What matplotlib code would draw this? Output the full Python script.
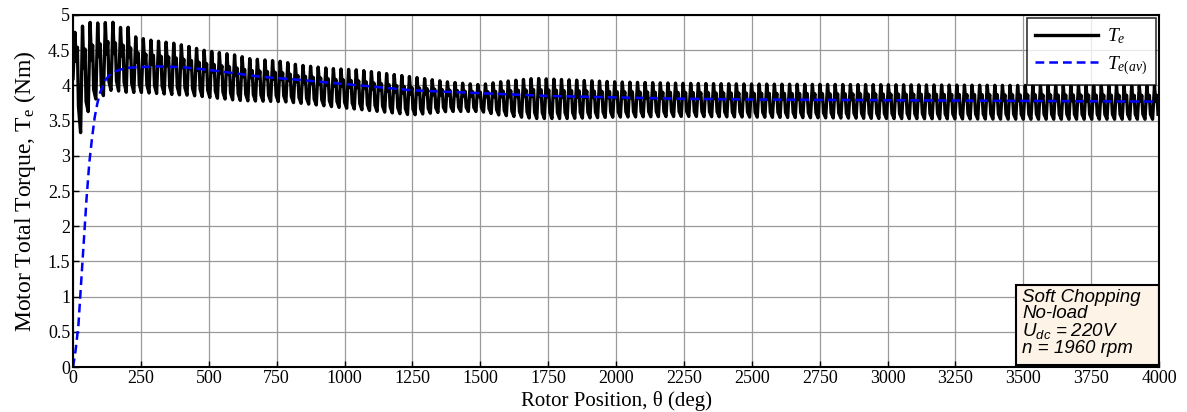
import numpy as np
import matplotlib
matplotlib.use("Agg")
import matplotlib.pyplot as plt
from matplotlib.patches import Rectangle

plt.rcParams["font.family"] = ["Liberation Serif", "DejaVu Serif"]
plt.rcParams["mathtext.fontset"] = "custom"
plt.rcParams["mathtext.rm"] = "Liberation Serif"
plt.rcParams["mathtext.it"] = "Liberation Serif:italic"
plt.rcParams["mathtext.sf"] = "Liberation Sans:italic"

# Envelope of the instantaneous torque ripple (deg -> Nm)
env_theta = [0, 15, 28, 45, 80, 110, 140, 170, 200, 230, 250, 290, 370, 430,
             480, 600, 650, 770, 830, 950, 1050, 1250, 1380, 1500, 1570, 1700,
             1820, 2000, 2250, 2500, 3000, 3500, 4000]
env_upper = [4.60, 4.93, 4.80, 4.90, 4.89, 4.88, 4.92, 4.82, 4.84, 4.69, 4.67,
             4.64, 4.60, 4.55, 4.50, 4.43, 4.38, 4.34, 4.29, 4.24, 4.22, 4.12,
             4.05, 4.01, 4.05, 4.10, 4.08, 4.05, 4.03, 4.02, 4.01, 4.00, 3.99]
env_lower = [4.10, 3.60, 3.33, 3.55, 3.80, 3.85, 3.93, 3.92, 3.90, 3.90, 3.90,
             3.89, 3.87, 3.86, 3.84, 3.79, 3.78, 3.77, 3.75, 3.70, 3.66, 3.58,
             3.63, 3.63, 3.58, 3.53, 3.53, 3.55, 3.56, 3.55, 3.53, 3.52, 3.52]
ripple_period = 28.0  # deg per torque cycle

# Average torque T_e(av)
avg_theta = [0, 10, 20, 30, 40, 50, 60, 70, 80, 90, 100, 120, 140, 170, 200,
             300, 400, 500, 600, 700, 800, 1000, 1250, 1500, 1750, 2000, 2250,
             2500, 3000, 3500, 4000]
avg_torque = [0.0, 0.25, 0.6, 1.2, 1.8, 2.4, 2.9, 3.25, 3.55, 3.75, 3.90, 4.08,
              4.17, 4.22, 4.25, 4.27, 4.26, 4.22, 4.17, 4.12, 4.09, 4.02, 3.93,
              3.89, 3.85, 3.83, 3.81, 3.80, 3.79, 3.78, 3.77]

x_ticks = list(range(0, 4001, 250))
y_ticks = [0, 0.5, 1, 1.5, 2, 2.5, 3, 3.5, 4, 4.5, 5]
y_ticklabels = ["0", "0.5", "1", "1.5", "2", "2.5", "3", "3.5", "4", "4.5", "5"]

# Build the rippling torque waveform cycle by cycle: a sharp rise to the
# peak, a shoulder, then back down to the trough.
phase = [0.0, 0.25, 0.42, 0.58, 0.72, 1.0]
level = [0.0, 1.0, 0.55, 0.72, 0.15, 0.0]
n_cycles = int(np.ceil(4000 / ripple_period))
te_theta, te_val = [], []
for k in range(n_cycles):
    for p, lv in zip(phase[:-1], level[:-1]):
        th = (k + p) * ripple_period
        if th > 4000:
            break
        lo = np.interp(th, env_theta, env_lower)
        hi = np.interp(th, env_theta, env_upper)
        te_theta.append(th)
        te_val.append(lo + lv * (hi - lo))

fig = plt.figure(figsize=(11.87, 4.12), dpi=100)
ax = fig.add_axes([0.0615, 0.109, 0.915, 0.8546])

ax.plot(te_theta, te_val, color="black", lw=2.4, label=r"$T_e$", zorder=3)
ax.plot(avg_theta, avg_torque, color="#0000ff", lw=1.8, ls=(0, (3.5, 2)),
        label=r"$T_{e(av)}$", zorder=4)

ax.set_xlim(0, 4000)
ax.set_ylim(0, 5)
ax.set_xticks(x_ticks)
ax.set_yticks(y_ticks)
ax.set_yticklabels(y_ticklabels)
ax.tick_params(direction="in", length=4, width=1, labelsize=13, pad=2)
ax.grid(True, color="#9a9a9a", lw=0.9)
for s in ax.spines.values():
    s.set_linewidth(1.5)
    s.set_zorder(12)

ax.set_xlabel(r"Rotor Position, θ (deg)", fontsize=15, labelpad=3)
ax.set_ylabel(r"Motor Total Torque, T$_\mathrm{e}$ (Nm)", fontsize=17, labelpad=7)

leg = ax.legend(loc="upper right", fontsize=14, frameon=True, fancybox=False,
                edgecolor="black", borderaxespad=0.15, handlelength=3.2,
                labelspacing=0.4, borderpad=0.45, handletextpad=0.5)
leg.get_frame().set_linewidth(1.2)
leg.set_zorder(10)

# Operating-condition note in the lower right corner
ax.add_patch(Rectangle((0.868, 0.006), 0.132, 0.228, transform=ax.transAxes,
                       facecolor="#fdf3e7", edgecolor="black", lw=1.5,
                       zorder=10))
ax.text(0.874, 0.222,
        "Soft Chopping\nNo-load\n" + r"$\mathsf{U_{dc}\,=\,220V}$" + "\nn = 1960 rpm",
        transform=ax.transAxes, ha="left", va="top",
        fontsize=13.5, fontfamily="Liberation Sans", fontstyle="italic",
        linespacing=0.92, zorder=11)

fig.savefig("out.png", dpi=100)
